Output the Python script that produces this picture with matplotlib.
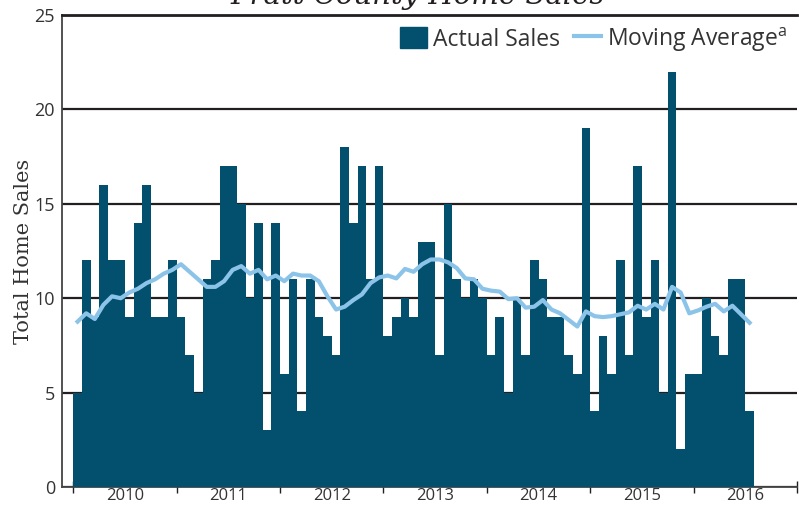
import numpy as np
import matplotlib.pyplot as plt
from matplotlib.patches import Patch
from matplotlib.lines import Line2D

plt.rcParams['font.family'] = ['Open Sans', 'DejaVu Sans']
plt.rcParams['mathtext.fontset'] = 'custom'
plt.rcParams['mathtext.rm'] = 'Open Sans'

# Ventas mensuales, ene 2010 - jul 2016
sales_2010 = [5, 12, 9, 16, 12, 12, 9, 14, 16, 9, 9, 12]
sales_2011 = [9, 7, 5, 11, 12, 17, 17, 15, 10, 14, 3, 14]
sales_2012 = [6, 11, 4, 11, 9, 8, 7, 18, 14, 17, 11, 17]
sales_2013 = [8, 9, 10, 9, 13, 13, 7, 15, 11, 10, 11, 10]
sales_2014 = [7, 9, 5, 10, 7, 12, 11, 9, 9, 7, 6, 19]
sales_2015 = [4, 8, 6, 12, 7, 17, 9, 12, 5, 22, 2, 6]
sales_2016 = [6, 10, 8, 7, 11, 11, 4]
sales = sales_2010 + sales_2011 + sales_2012 + sales_2013 + sales_2014 + sales_2015 + sales_2016

# Promedio movil
moving_avg = [8.76, 9.2, 8.9, 9.65, 10.1, 10.0, 10.3, 10.5, 10.8, 11.0, 11.3, 11.5,
              11.8, 11.4, 11.0, 10.6, 10.6, 10.9, 11.5, 11.7, 11.3, 11.5, 11.0, 11.2,
              10.9, 11.3, 11.2, 11.2, 10.9, 10.1, 9.4, 9.55, 9.9, 10.2, 10.8, 11.1,
              11.2, 11.05, 11.55, 11.4, 11.8, 12.05, 12.05, 11.9, 11.6, 11.05, 11.0, 10.5,
              10.4, 10.35, 9.95, 10.0, 9.5, 9.55, 9.9, 9.4, 9.2, 8.85, 8.5, 9.3,
              9.05, 9.0, 9.05, 9.15, 9.25, 9.6, 9.4, 9.7, 9.4, 10.6, 10.3, 9.2,
              9.35, 9.55, 9.7, 9.3, 9.6, 9.15, 8.7]

years = [2010, 2011, 2012, 2013, 2014, 2015, 2016]
year_labels = ['2010', '2011', '2012', '2013', '2014', '2015', '2016']

bar_color = '#03506e'
line_color = '#8cc3e9'
dark = '#231f20'
text_color = '#333333'

x = 2010 + np.arange(len(sales)) / 12

fig = plt.figure(figsize=(7.99, 5.05), dpi=100)
ax = fig.add_axes([62 / 799, 18 / 505, 735 / 799, 472 / 505])

ax.bar(x, sales, width=1 / 12, align='edge', color=bar_color, linewidth=0, zorder=3)
ax.plot(x + 1 / 24, moving_avg, color=line_color, lw=3, solid_joinstyle='round', zorder=4)

ax.set_xlim(2010 - 0.109, 2017)
ax.set_ylim(0, 25)
ax.set_yticks([0, 5, 10, 15, 20, 25])
ax.grid(axis='y', color=dark, lw=1.6, zorder=1)
ax.set_axisbelow(True)

ax.set_xticks(np.arange(2010, 2018))
ax.set_xticklabels([])
ax.set_xticks(np.array(years) + 0.5, minor=True)
ax.set_xticklabels(year_labels, minor=True)
ax.tick_params(axis='x', which='major', direction='inout', length=8, width=1, color=dark)
ax.tick_params(axis='x', which='minor', length=0, pad=1, labelsize=12, labelcolor=text_color)
ax.tick_params(axis='y', length=0, pad=5, labelsize=13, labelcolor=text_color)

ax.spines['right'].set_visible(False)
ax.spines['top'].set_linewidth(2)
ax.spines['top'].set_color(dark)
ax.spines['left'].set_linewidth(1.3)
ax.spines['left'].set_color('#444444')
ax.spines['bottom'].set_linewidth(1.3)
ax.spines['bottom'].set_color('#444444')

ax.set_ylabel('Total Home Sales', family='DejaVu Serif', fontsize=15, color=text_color)
ax.yaxis.set_label_coords(-0.040, 0.5)

handles = [Patch(color=bar_color), Line2D([0], [0], color=line_color, lw=3)]
ax.legend(handles, ['Actual Sales', 'Moving Average$^{\\mathrm{a}}$'], ncol=2,
          loc='upper right', bbox_to_anchor=(1.0, 1.0), frameon=False, fontsize=16.5,
          handlelength=1.2, handleheight=1.0, handletextpad=0.25, columnspacing=0.6,
          borderaxespad=0.05, labelcolor=text_color)

fig.text(418 / 799, 0.992, 'Pratt County Home Sales', family='DejaVu Serif',
         style='italic', fontsize=21, color=dark, ha='center', va='baseline')

fig.savefig('out.png', dpi=100)
